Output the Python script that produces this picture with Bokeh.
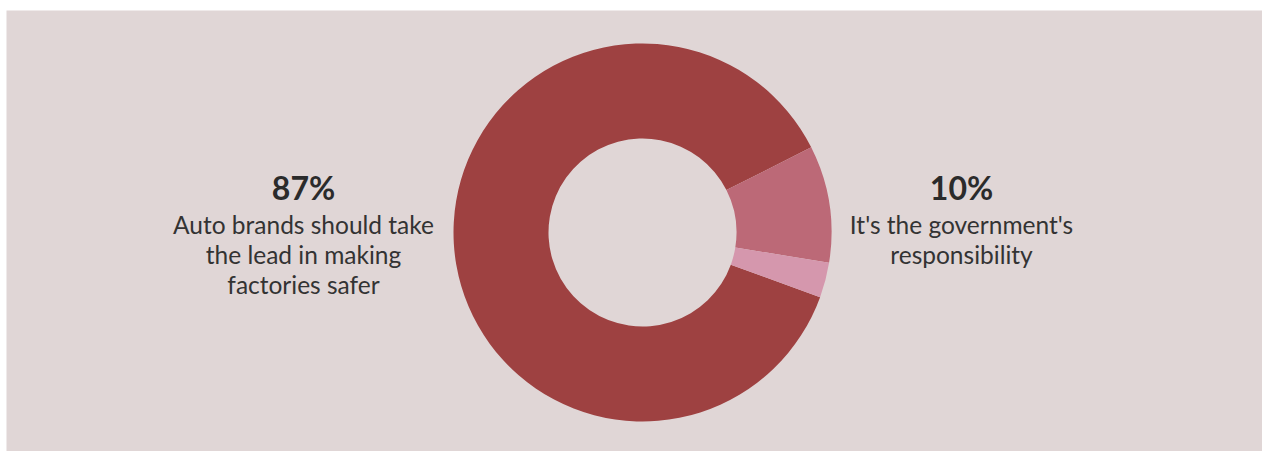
import math
from bokeh.plotting import figure
from bokeh.models import Range1d, ColumnDataSource
from bokeh.core.properties import value
from bokeh.embed import file_html
from bokeh.resources import INLINE

# Data
labels = ["Auto brands should take the lead in making factories safer",
          "It's the government's responsibility",
          "Other"]
values = [87, 10, 3]
colors = ["#9e4141", "#bc6977", "#d597ad"]
pct_labels = ["87%", "10%"]
desc_lines = [["Auto brands should take", "the lead in making", "factories safer"],
              ["It's the government's", "responsibility"]]

BG = "#e0d6d6"
W, H = 1256, 441
X0, Y0 = 6, 10

p = figure(width=W, height=H, output_backend="svg", toolbar_location=None,
           x_range=Range1d(X0, X0 + W), y_range=Range1d(Y0 + H, Y0),
           min_border=0, outline_line_color=None)
p.margin = (Y0, 0, 0, X0)
p.background_fill_color = BG
p.border_fill_color = BG
p.axis.visible = False
p.grid.visible = False

# donut geometry (window pixel coordinates)
cx, cy = 642, 232
r_out, r_in = 189, 94
start = math.radians(-20)  # screen angle where the first slice starts, going clockwise

total = sum(values)
starts, ends = [], []
a = start
for v in values:
    span = 2 * math.pi * v / total
    starts.append(a - span)
    ends.append(a)
    a -= span

src = ColumnDataSource(dict(s=starts, e=ends, c=colors))
p.annular_wedge(x=cx, y=cy, inner_radius=r_in, outer_radius=r_out,
                start_angle="s", end_angle="e", direction="anticlock",
                fill_color="c", line_color=None, source=src)

# labels
label_x = [303, 961]
for i in range(2):
    p.text(x=[label_x[i]], y=[187], text=[pct_labels[i]],
           text_font=value("Lato"), text_font_style="bold", text_font_size="32px",
           text_color="#2b2b2b", text_align="center", text_baseline="middle")
    ys = [224 + 30 * k for k in range(len(desc_lines[i]))]
    p.text(x=[label_x[i]] * len(ys), y=ys, text=desc_lines[i],
           text_font=value("Lato"), text_font_size="24.5px",
           text_color="#333333", text_align="center", text_baseline="middle")

open("out.html", "w").write(file_html(p, INLINE))
